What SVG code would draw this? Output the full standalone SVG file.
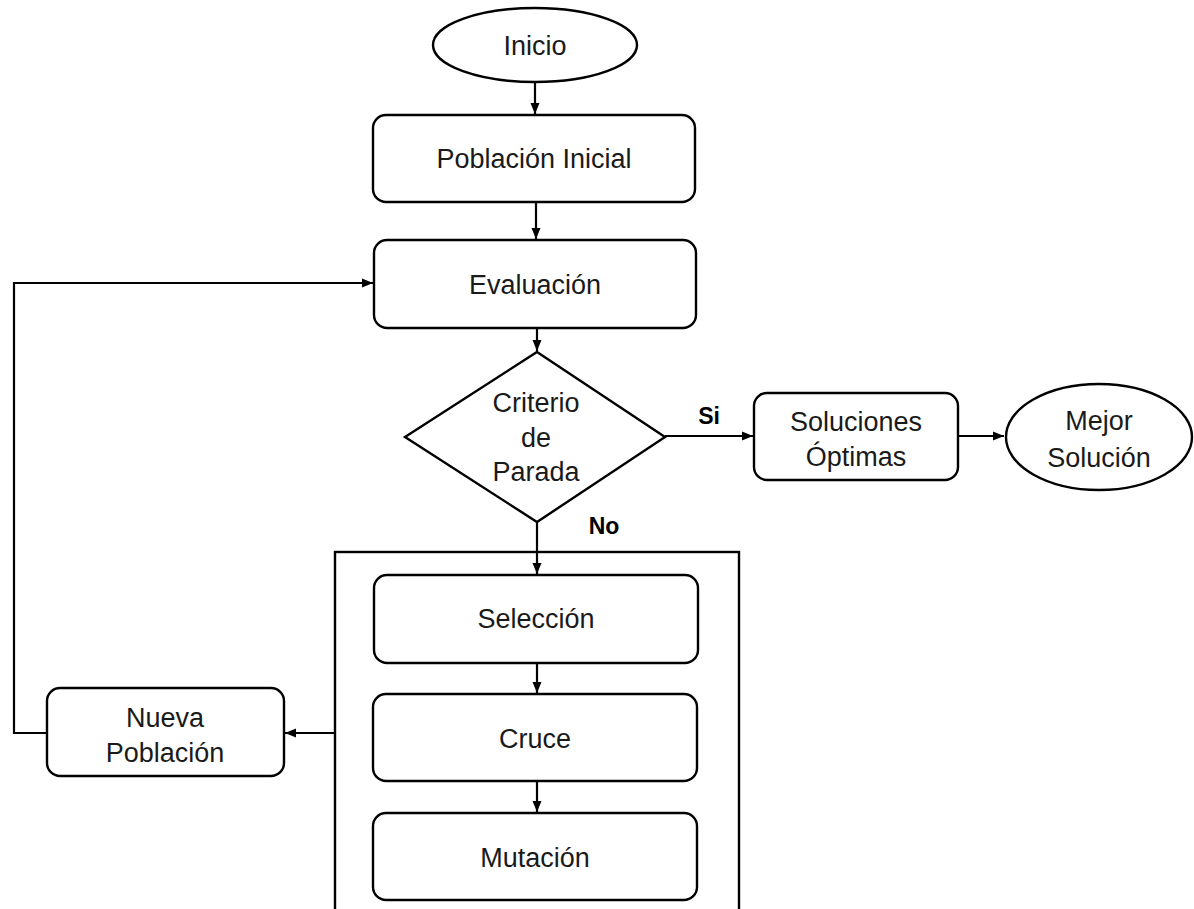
<svg xmlns="http://www.w3.org/2000/svg" width="1194" height="909" viewBox="0 0 1194 909">
<style>
.shape{fill:#fff;stroke:#000;stroke-width:2.4}
.t{font-family:"Liberation Sans",Arial,sans-serif;font-size:27px;fill:#1a1a1a;text-anchor:middle}
.b{font-family:"Liberation Sans",Arial,sans-serif;font-size:23px;font-weight:bold;fill:#000;text-anchor:middle}
.c{fill:none;stroke:#000;stroke-width:2.2}
</style>
<defs>
<marker id="ah" markerWidth="12" markerHeight="12" refX="11" refY="6" orient="auto" markerUnits="userSpaceOnUse">
<path d="M0,1.5 L11,6 L0,10.5 z" fill="#000"/>
</marker>
</defs>
<rect width="1194" height="909" fill="#fff"/>
<g id="loop-frame"><rect class="shape" x="335" y="552" width="404" height="420" fill="none"/></g>
<g id="connectors">
<path class="c" d="M535,82 V114" marker-end="url(#ah)"/>
<path class="c" d="M536,202 V239" marker-end="url(#ah)"/>
<path class="c" d="M537,328 V351" marker-end="url(#ah)"/>
<path class="c" d="M665,436 H753" marker-end="url(#ah)"/>
<path class="c" d="M958,436 H1004" marker-end="url(#ah)"/>
<path class="c" d="M537,522 V574" marker-end="url(#ah)"/>
<path class="c" d="M537,663 V693" marker-end="url(#ah)"/>
<path class="c" d="M537,781 V812" marker-end="url(#ah)"/>
<path class="c" d="M335,733 H285" marker-end="url(#ah)"/>
<path class="c" d="M47,733 H14 V283 H373" marker-end="url(#ah)"/>
<text class="b" x="709" y="424">Si</text>
<text class="b" x="604" y="534">No</text>
</g>
<g id="inicio"><ellipse class="shape" cx="535" cy="45" rx="102" ry="37"/><text class="t" x="535" y="55">Inicio</text></g>
<g id="poblacion-inicial"><rect class="shape" x="373" y="115" width="322" height="87" rx="13"/><text class="t" x="534" y="168">Población Inicial</text></g>
<g id="evaluacion"><rect class="shape" x="374" y="240" width="322" height="88" rx="13"/><text class="t" x="535" y="294">Evaluación</text></g>
<g id="criterio"><polygon class="shape" points="537,352 665,437 537,522 405,437"/>
<text class="t" x="536" y="412">Criterio</text><text class="t" x="536" y="447">de</text><text class="t" x="536" y="481">Parada</text></g>
<g id="soluciones"><rect class="shape" x="754" y="393" width="204" height="87" rx="13"/><text class="t" x="856" y="431">Soluciones</text><text class="t" x="856" y="466">Óptimas</text></g>
<g id="mejor"><ellipse class="shape" cx="1099" cy="437" rx="93" ry="53"/><text class="t" x="1099" y="430">Mejor</text><text class="t" x="1099" y="467">Solución</text></g>
<g id="seleccion"><rect class="shape" x="374" y="575" width="324" height="88" rx="13"/><text class="t" x="536" y="628">Selección</text></g>
<g id="cruce"><rect class="shape" x="373" y="694" width="324" height="87" rx="13"/><text class="t" x="535" y="748">Cruce</text></g>
<g id="mutacion"><rect class="shape" x="373" y="813" width="324" height="87" rx="13"/><text class="t" x="535" y="867">Mutación</text></g>
<g id="nueva"><rect class="shape" x="47" y="688" width="237" height="88" rx="13"/><text class="t" x="165" y="727">Nueva</text><text class="t" x="165" y="762">Población</text></g>
</svg>
